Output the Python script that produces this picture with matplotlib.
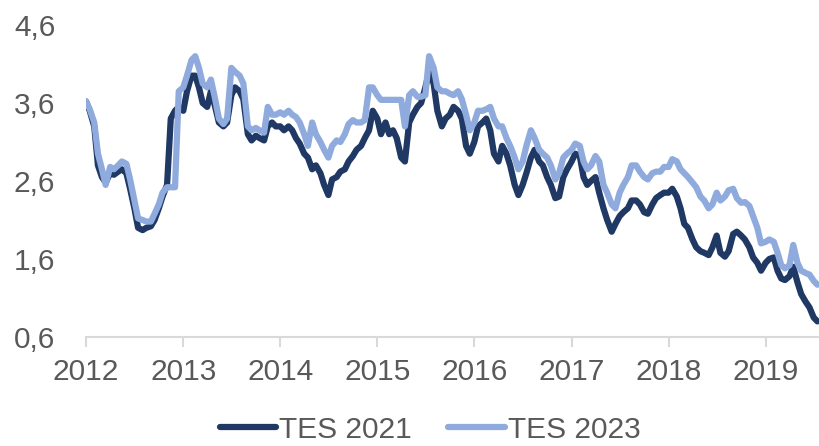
"""TES 2021 vs TES 2023 yields, 2012-2019."""

import matplotlib

matplotlib.use("Agg")
import matplotlib.pyplot as plt
import matplotlib.dates as mdates
import pandas as pd

# semi-monthly readings (1st and 15th of each month), Jan 2012 - Jul 2019
tes_2021 = [
    3.62, 3.50, 3.30, 2.80, 2.65, 2.58, 2.70, 2.68, 2.72, 2.75, 2.70, 2.50,   # 2012
    2.25, 2.00, 1.97, 2.00, 2.02, 2.10, 2.25, 2.40, 2.55, 3.40, 3.50, 3.55,
    3.50, 3.75, 3.95, 3.95, 3.80, 3.60, 3.55, 3.75, 3.55, 3.35, 3.30, 3.35,   # 2013
    3.70, 3.80, 3.75, 3.65, 3.20, 3.12, 3.18, 3.15, 3.12, 3.30, 3.35, 3.30,
    3.30, 3.25, 3.30, 3.25, 3.15, 3.08, 2.95, 2.90, 2.75, 2.80, 2.70, 2.55,   # 2014
    2.42, 2.62, 2.65, 2.72, 2.75, 2.85, 2.92, 3.00, 3.05, 3.15, 3.25, 3.50,
    3.40, 3.20, 3.35, 3.20, 3.25, 3.15, 2.90, 2.85, 3.35, 3.45, 3.55, 3.60,   # 2015
    3.80, 4.00, 3.85, 3.50, 3.30, 3.40, 3.45, 3.55, 3.50, 3.40, 3.05, 2.95,
    3.10, 3.30, 3.35, 3.40, 3.25, 2.95, 2.85, 3.05, 2.95, 2.80, 2.55, 2.42,   # 2016
    2.55, 2.70, 2.90, 3.00, 2.85, 2.80, 2.65, 2.55, 2.38, 2.40, 2.65, 2.75,
    2.85, 2.95, 2.92, 2.65, 2.55, 2.60, 2.65, 2.45, 2.25, 2.10, 1.95, 2.05,   # 2017
    2.15, 2.20, 2.25, 2.35, 2.35, 2.30, 2.20, 2.18, 2.30, 2.38, 2.42, 2.45,
    2.45, 2.50, 2.40, 2.25, 2.05, 2.00, 1.85, 1.75, 1.70, 1.68, 1.65, 1.75,   # 2018
    1.90, 1.68, 1.63, 1.70, 1.92, 1.95, 1.90, 1.85, 1.75, 1.62, 1.55, 1.45,
    1.55, 1.60, 1.62, 1.45, 1.35, 1.33, 1.38, 1.50, 1.30, 1.15, 1.05, 0.98,   # 2019
    0.85, 0.80,
]
tes_2023 = [
    3.62, 3.52, 3.35, 2.95, 2.75, 2.55, 2.78, 2.75, 2.80, 2.85, 2.82, 2.62,   # 2012
    2.35, 2.12, 2.10, 2.08, 2.08, 2.18, 2.30, 2.45, 2.52, 2.52, 2.52, 3.75,
    3.80, 3.95, 4.15, 4.20, 4.05, 3.85, 3.80, 3.90, 3.65, 3.40, 3.33, 3.40,   # 2013
    4.05, 4.00, 3.95, 3.85, 3.30, 3.25, 3.28, 3.25, 3.22, 3.55, 3.45, 3.45,
    3.48, 3.45, 3.50, 3.45, 3.42, 3.35, 3.20, 3.05, 3.35, 3.20, 3.10, 3.00,   # 2014
    2.90, 3.05, 3.12, 3.10, 3.20, 3.33, 3.38, 3.35, 3.35, 3.38, 3.80, 3.80,
    3.70, 3.64, 3.64, 3.64, 3.64, 3.64, 3.64, 3.30, 3.70, 3.75, 3.68, 3.68,   # 2015
    3.70, 4.20, 4.05, 3.80, 3.75, 3.75, 3.72, 3.70, 3.75, 3.65, 3.45, 3.25,
    3.35, 3.50, 3.50, 3.52, 3.55, 3.40, 3.30, 3.30, 3.15, 3.05, 2.90, 2.75,   # 2016
    2.85, 3.05, 3.25, 3.15, 3.00, 2.95, 2.90, 2.80, 2.62, 2.70, 2.90, 2.95,
    3.00, 3.08, 3.05, 2.85, 2.75, 2.80, 2.92, 2.85, 2.55, 2.45, 2.30, 2.25,   # 2017
    2.45, 2.55, 2.65, 2.80, 2.80, 2.72, 2.65, 2.62, 2.70, 2.72, 2.72, 2.78,
    2.78, 2.88, 2.85, 2.75, 2.70, 2.65, 2.58, 2.52, 2.40, 2.35, 2.25, 2.30,   # 2018
    2.45, 2.35, 2.40, 2.48, 2.50, 2.38, 2.32, 2.33, 2.28, 2.15, 2.00, 1.80,
    1.82, 1.85, 1.82, 1.68, 1.52, 1.48, 1.52, 1.78, 1.55, 1.45, 1.42, 1.40,   # 2019
    1.32, 1.27,
]
dates = pd.date_range("2012-01-01", periods=len(tes_2021), freq="SMS")

y_ticks = [0.6, 1.6, 2.6, 3.6, 4.6]
y_labels = ["0,6", "1,6", "2,6", "3,6", "4,6"]

DARK = "#1F3864"
LIGHT = "#8FAADC"
GREY_TEXT = "#595959"
AXIS_GREY = "#D9D9D9"
FS = 21.5

plt.rcParams["font.family"] = ["Liberation Sans", "DejaVu Sans"]

fig = plt.figure(figsize=(8.19, 4.46), dpi=100)
ax = fig.add_axes([0.105, 0.2444, 0.895, 0.6996])

ax.plot(dates, tes_2021, color=DARK, lw=4.5, label="TES 2021",
        solid_joinstyle="round", solid_capstyle="round")
ax.plot(dates, tes_2023, color=LIGHT, lw=4.5, label="TES 2023",
        solid_joinstyle="round", solid_capstyle="round")

ax.set_xlim(pd.Timestamp("2012-01-01"), pd.Timestamp("2019-07-21"))
ax.set_ylim(0.6, 4.6)
ax.set_yticks(y_ticks)
ax.set_yticklabels(y_labels)

ax.xaxis.set_major_locator(mdates.YearLocator())
ax.xaxis.set_major_formatter(mdates.DateFormatter("%Y"))

for side in ("top", "right", "left"):
    ax.spines[side].set_visible(False)
ax.spines["bottom"].set_color(AXIS_GREY)
ax.spines["bottom"].set_linewidth(1.5)

ax.tick_params(axis="y", length=0, pad=22, labelsize=FS, labelcolor=GREY_TEXT)
ax.tick_params(axis="x", length=7, width=1.5, color=AXIS_GREY, pad=8,
               labelsize=FS, labelcolor=GREY_TEXT)

leg = fig.legend(loc="center", bbox_to_anchor=(0.525, 0.036), ncol=2,
                 frameon=False, fontsize=FS, handlelength=1.9,
                 handletextpad=0.1, columnspacing=1.2)
for text in leg.get_texts():
    text.set_color(GREY_TEXT)

fig.savefig("out.png", dpi=100)
plt.close(fig)
